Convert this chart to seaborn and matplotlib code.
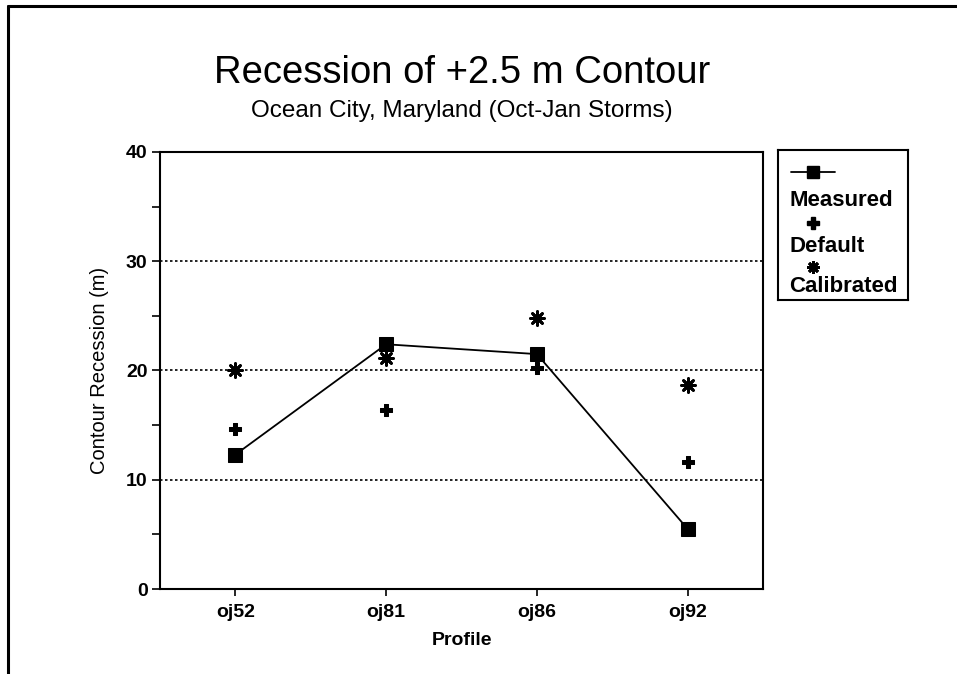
import pandas as pd
import seaborn as sns
import matplotlib.pyplot as plt
from matplotlib.lines import Line2D

# Data
profiles = ["oj52", "oj81", "oj86", "oj92"]
measured = [12.3, 22.4, 21.5, 5.5]
default = [14.6, 16.4, 20.2, 11.6]
calibrated = [20.0, 21.1, 24.8, 18.7]
y_ticks = [0, 10, 20, 30, 40]

sns.set_style("white")
plt.rcParams['font.family'] = ['Liberation Sans', 'DejaVu Sans']
plt.rcParams['text.color'] = 'black'
plt.rcParams['axes.labelcolor'] = 'black'
plt.rcParams['xtick.color'] = 'black'
plt.rcParams['ytick.color'] = 'black'

df = pd.DataFrame({"Profile": profiles, "Measured": measured,
                   "Default": default, "Calibrated": calibrated})

fig = plt.figure(figsize=(9.57, 6.74), dpi=100)
ax = fig.add_axes([0.1672, 0.1261, 0.6301, 0.6484])

# Measured: line with square markers
sns.lineplot(data=df, x="Profile", y="Measured", color="black", linewidth=1.3,
             marker="s", markersize=10, markeredgecolor="black", ax=ax)
# Default: filled plus
sns.scatterplot(data=df, x="Profile", y="Default", color="black", marker="P",
                s=85, edgecolor="black", ax=ax)
# Calibrated: asterisk
sns.scatterplot(data=df, x="Profile", y="Calibrated", color="black",
                marker=(8, 2, 0), s=100, linewidth=2.0, ax=ax)

ax.set_xlim(-0.5, 3.5)
ax.set_ylim(0, 40)
ax.set_yticks(y_ticks)
ax.set_yticks([5, 15, 25, 35], minor=True)
for y in y_ticks[1:-1]:
    ax.axhline(y, color="black", linestyle=(0, (1.5, 1.5)), linewidth=1.2, zorder=0)

for sp in ax.spines.values():
    sp.set_color("black")
    sp.set_linewidth(1.5)
ax.tick_params(axis="both", which="both", direction="out", color="black",
               width=1.2, length=6, labelsize=14, pad=3)
ax.tick_params(axis="y", which="both", left=True)
ax.tick_params(axis="x", bottom=True, length=5, pad=6)
for lab in ax.get_xticklabels() + ax.get_yticklabels():
    lab.set_fontweight("bold")

ax.set_xlabel("Profile", fontsize=14, fontweight="bold", labelpad=8)
ax.set_ylabel("Contour Recession (m)", fontsize=14.5, labelpad=12)

# Titles
fig.text(0.483, 0.877, "Recession of +2.5 m Contour", ha="center", va="baseline",
         fontsize=27.5)
fig.text(0.483, 0.826, "Ocean City, Maryland (Oct-Jan Storms)", ha="center",
         va="baseline", fontsize=17.5)

# Legend box, marker above each label
lax = fig.add_axes([0.813, 0.555, 0.1358, 0.2225])
lax.set_xlim(0, 1)
lax.set_ylim(1, 0)
lax.set_xticks([])
lax.set_yticks([])
for sp in lax.spines.values():
    sp.set_color("black")
    sp.set_linewidth(1.5)
lax.plot([0.1, 0.44], [0.15, 0.15], color="black", linewidth=1.3)
lax.plot([0.27], [0.15], color="black", marker="s", markersize=9)
lax.plot([0.27], [0.49], color="black", marker="P", markersize=8)
lax.plot([0.27], [0.78], color="black", marker=(8, 2, 0), markersize=9,
         markeredgewidth=2)
leg_labels = ["Measured", "Default", "Calibrated"]
for lab, yy in zip(leg_labels, [0.335, 0.645, 0.91]):
    lax.text(0.085, yy, lab, fontsize=16, fontweight="bold", va="center", ha="left")

# Page border (left and top edges)
fig.add_artist(Line2D([0.008, 0.008], [0, 0.991], color="black", linewidth=2.2))
fig.add_artist(Line2D([0.008, 1.0], [0.991, 0.991], color="black", linewidth=2.2))

fig.savefig("out.png", dpi=100)
